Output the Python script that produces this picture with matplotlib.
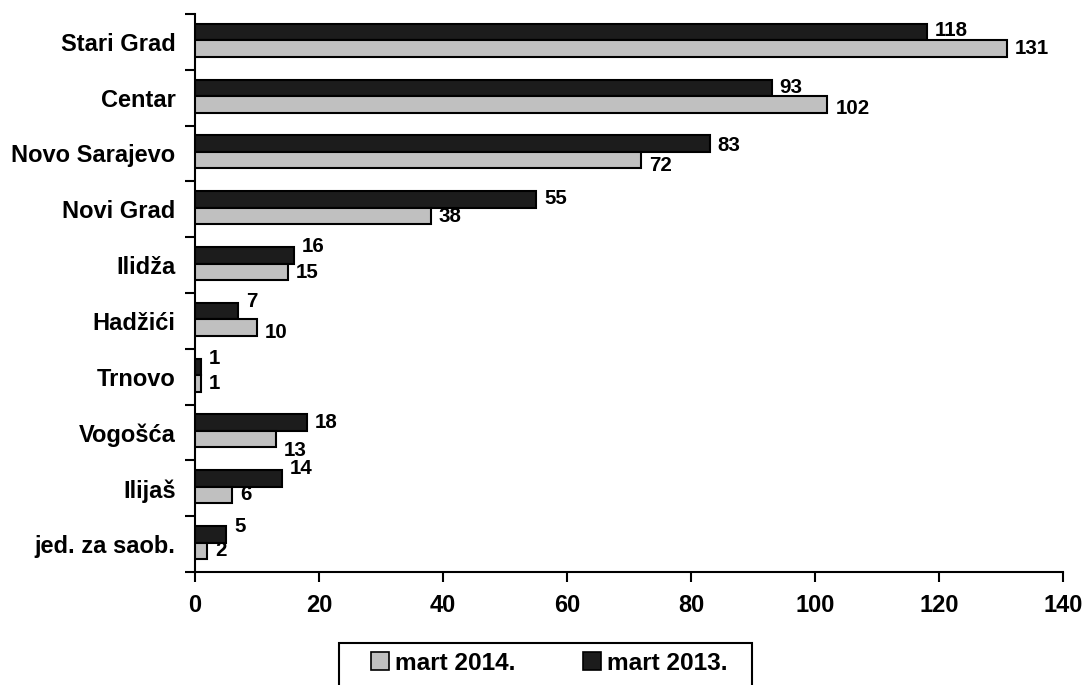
import matplotlib
matplotlib.use("Agg")
import matplotlib.pyplot as plt
from matplotlib.patches import Patch, Rectangle
import numpy as np

categories = ["Stari Grad", "Centar", "Novo Sarajevo", "Novi Grad", "Ilidža",
              "Hadžići", "Trnovo", "Vogošća", "Ilijaš", "jed. za saob."]
mart_2013 = [118, 93, 83, 55, 16, 7, 1, 18, 14, 5]
mart_2014 = [131, 102, 72, 38, 15, 10, 1, 13, 6, 2]
xticks = [0, 20, 40, 60, 80, 100, 120, 140]
series_labels = ["mart 2014.", "mart 2013."]

# label vertical nudges in pixels (style only; positive = down)
dark_nudge = [-1.5, 0, 2, -1, -9, -10, -8, 0, -10, -8]
light_nudge = [0, 4.5, 5, 1, 1, 5, 0, 11, 0, 0]

plt.rcParams['font.family'] = ['Liberation Sans', 'DejaVu Sans']
plt.rcParams['font.weight'] = 'bold'

DARK = "#1c1c1c"
LIGHT = "#c0c0c0"

W, H = 1082, 685
fig = plt.figure(figsize=(W / 100, H / 100), dpi=100)
ax = fig.add_axes([0.1802, 0.1650, 0.8022, 0.8146])

n = len(categories)
y = np.arange(n)
h = 0.295
ax.barh(y - 0.175, mart_2013, height=h, color=DARK, edgecolor="black", linewidth=1.5, zorder=3)
ax.barh(y + 0.12, mart_2014, height=h, color=LIGHT, edgecolor="black", linewidth=1.5, zorder=3)

for i in range(n):
    ax.annotate(str(mart_2013[i]), xy=(mart_2013[i], y[i] - 0.175), xytext=(5.8, -dark_nudge[i] * 0.72),
                textcoords="offset points", ha="left", va="center", fontsize=14.8, fontweight="bold")
    ax.annotate(str(mart_2014[i]), xy=(mart_2014[i], y[i] + 0.12), xytext=(5.8, -light_nudge[i] * 0.72),
                textcoords="offset points", ha="left", va="center", fontsize=14.8, fontweight="bold")

ax.set_xlim(0, 140)
ax.set_ylim(n - 0.5, -0.5)
ax.set_xticks(xticks)
ax.set_xticklabels([str(t) for t in xticks], fontsize=17, fontweight="bold")
ax.tick_params(axis="x", direction="out", length=7, width=1.5, pad=9)

ax.set_yticks(y)
ax.set_yticklabels(categories, fontsize=17, fontweight="bold")
ax.tick_params(axis="y", which="major", length=0, pad=14)
ax.set_yticks(np.arange(n + 1) - 0.5, minor=True)
ax.tick_params(axis="y", which="minor", direction="out", length=7, width=1.5)

for s in ["top", "right"]:
    ax.spines[s].set_visible(False)
for s in ["left", "bottom"]:
    ax.spines[s].set_linewidth(1.5)

# legend frame (box extends beyond the bottom edge, as in the reference)
fig.patches.append(Rectangle((339 / W, 1 - 700 / H), (752 - 339) / W, (700 - 643) / H,
                             transform=fig.transFigure, facecolor="white", edgecolor="black",
                             linewidth=1.5, zorder=1))

handles = [Patch(facecolor=LIGHT, edgecolor="black", linewidth=1.2),
           Patch(facecolor=DARK, edgecolor="black", linewidth=1.2)]
leg = fig.legend(handles, series_labels, loc="center left", bbox_to_anchor=(371 / W, 1 - 663 / H),
                 ncol=2, fontsize=17.6, frameon=False, handlelength=0.75, handleheight=0.75,
                 handletextpad=0.25, columnspacing=2.75, borderpad=0, borderaxespad=0)
leg.set_zorder(5)
for t in leg.get_texts():
    t.set_fontweight("bold")

fig.savefig("out.png", dpi=100, facecolor="white")
